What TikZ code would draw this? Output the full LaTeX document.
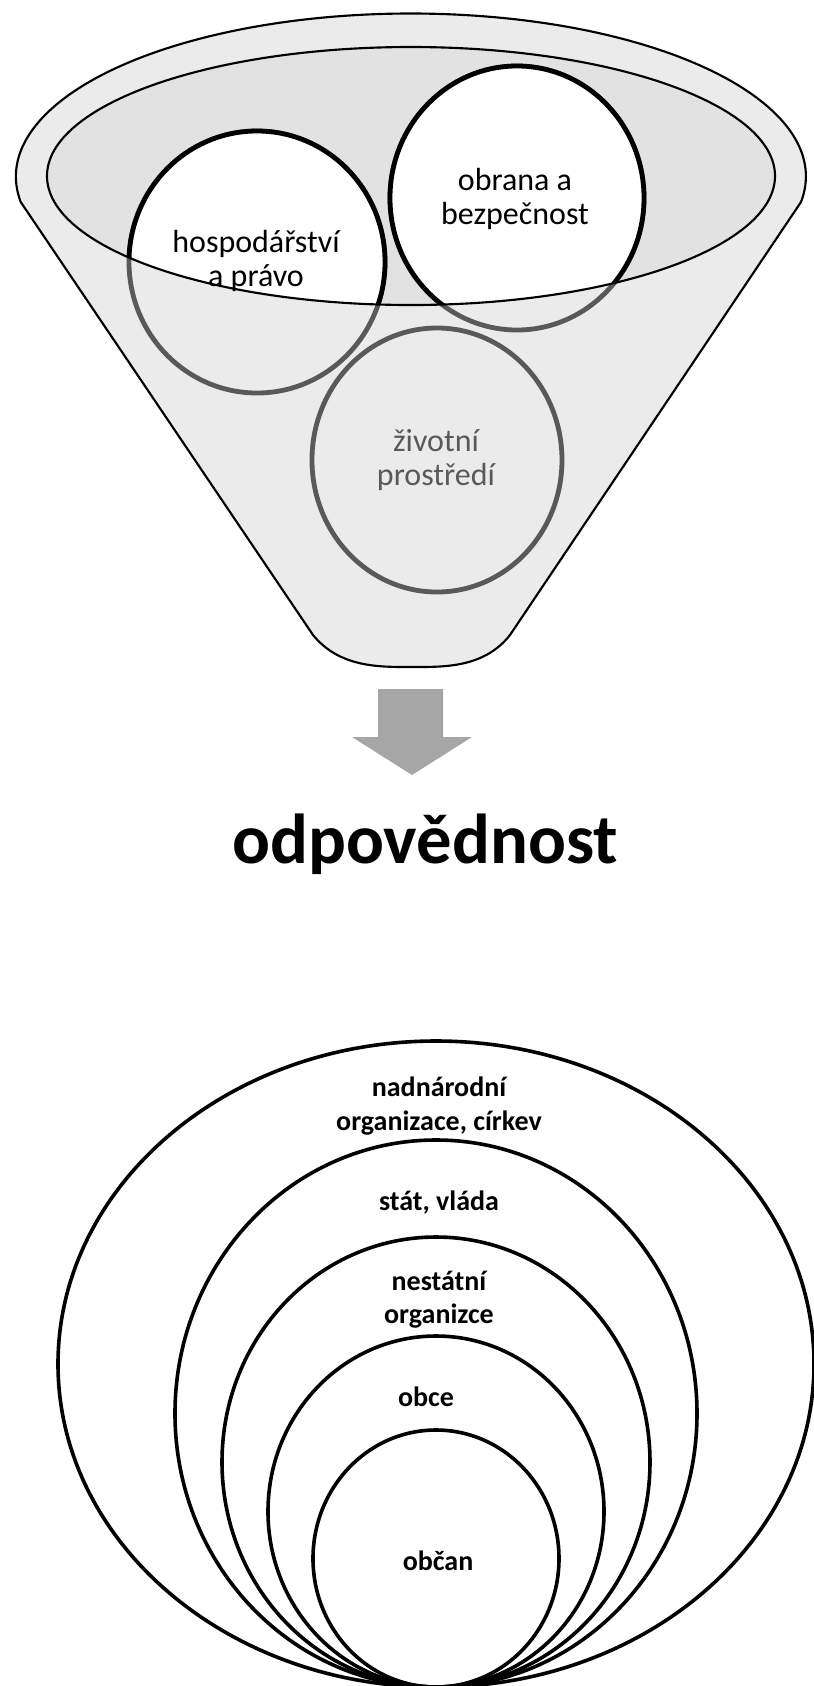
\documentclass[tikz,border=0pt]{standalone}
\usepackage{fontspec}
\setmainfont{Carlito}
\usetikzlibrary{positioning}
\definecolor{funnelgray}{HTML}{EBEBEB}
\definecolor{innergray}{HTML}{E2E2E2}
\definecolor{fadegray}{HTML}{595959}
\definecolor{arrowgray}{HTML}{A6A6A6}

\begin{document}
\begin{tikzpicture}[x=0.75pt,y=-0.75pt,
    funnel/.style={draw=black,line width=1.6pt,fill=funnelgray},
    topic/.style={align=center,font=\fontsize{24}{25}\selectfont},
    faded/.style={draw=fadegray,line width=3.6pt},
    sharp/.style={draw=black,line width=3.6pt,fill=white},
    ring/.style={draw=black,line width=2.7pt},
    level/.style={align=center,font=\bfseries\fontsize{21}{25}\selectfont}
]
\useasboundingbox (0,0) rectangle (814,1686);

% funnel body
\draw[funnel] (801,202) arc[start angle=9,end angle=-189,x radius=395,y radius=163]
    -- (313,635) .. controls (340,668) and (380,667) .. (412,667)
    .. controls (444,667) and (484,668) .. (510,635) -- cycle;
\fill[innergray] (411,176) ellipse[x radius=364,y radius=129];

% circles seen through the funnel
\draw[faded] (257,262) ellipse[x radius=128,y radius=131];
\draw[faded] (517,198) ellipse[x radius=127,y radius=132];
\draw[faded] (437,460) ellipse[x radius=125,y radius=132];
\begin{scope}
    \clip (411,176) ellipse[x radius=364,y radius=129];
    \draw[sharp] (257,262) ellipse[x radius=128,y radius=131];
    \draw[sharp] (517,198) ellipse[x radius=127,y radius=132];
\end{scope}

\node[topic] (hosp) at (256,261) {hospodářství\\a právo};
\node[topic] (obrana) at (515,199) {obrana a\\bezpečnost};
\node[topic,text=fadegray] (zivot) at (436,460) {životní\\prostředí};

\draw[black,line width=1.6pt] (411,176) ellipse[x radius=364,y radius=129];

% arrow
\fill[arrowgray] (378,689) -- (443,689) -- (443,737) -- (472,737) -- (412,775)
    -- (352,737) -- (378,737) -- cycle;

\node[font=\bfseries\fontsize{53}{60}\selectfont,anchor=base] (odp) at (425,863) {odpovědnost};

% nested levels, all touching at the bottom
\foreach \t/\r in {1041/378,1140/261,1237/214,1336/168,1430/123}
    \draw[ring] (436,{(\t+1687)/2}) ellipse[x radius=\r,y radius={(1687-\t)/2}];

\node[level] (nadnar) at (439,1106) {nadnárodní\\organizace, církev};
\node[level] (stat) at (439,1203) {stát, vláda};
\node[level] (nestat) at (439,1300) {nestátní\\organizce};
\node[level] (obce) at (426,1397) {obce};
\node[level] (obcan) at (438,1561) {občan};
\end{tikzpicture}
\end{document}
